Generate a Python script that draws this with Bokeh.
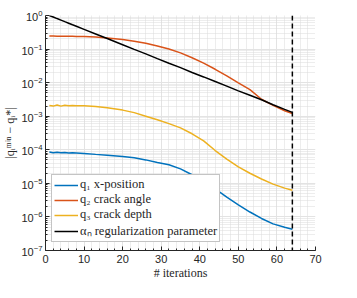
from bokeh.plotting import figure
from bokeh.models import FixedTicker, Span, Legend, LegendItem
from bokeh.embed import file_html
from bokeh.resources import INLINE

# ---- data ----
iterations = [1, 2, 3, 4, 5, 6, 7, 8, 10, 13, 16, 20, 23, 26, 29, 32, 35, 38,
              41, 44, 47, 50, 53, 56, 59, 62, 64]
q1_xpos = [8.6e-5, 8.2e-5, 8.5e-5, 8.1e-5, 8.3e-5, 8.0e-5, 8.1e-5, 8.0e-5, 7.8e-5,
           7.3e-5, 6.9e-5, 6.3e-5, 5.8e-5, 5.0e-5, 4.2e-5, 3.6e-5, 2.7e-5, 1.8e-5,
           1.2e-5, 6.8e-6, 3.9e-6, 2.3e-6, 1.4e-6, 9.0e-7, 6.2e-7, 4.9e-7, 4.3e-7]
q2_angle = [0.245, 0.244, 0.243, 0.242, 0.241, 0.240, 0.239, 0.238, 0.235,
            0.228, 0.215, 0.192, 0.172, 0.148, 0.124, 0.100, 0.077, 0.055,
            0.038, 0.025, 0.016, 0.0098, 0.0062, 0.0032, 0.0021, 0.00145, 0.0012]
q3_depth = [2.1e-3, 2.0e-3, 2.15e-3, 2.0e-3, 2.12e-3, 2.05e-3, 2.08e-3, 2.06e-3, 2.04e-3,
            1.95e-3, 1.78e-3, 1.52e-3, 1.28e-3, 1.0e-3, 7.8e-4, 6.0e-4, 4.5e-4, 3.0e-4,
            1.85e-4, 9.5e-5, 5.3e-5, 3.1e-5, 2.0e-5, 1.35e-5, 9.5e-6, 7.2e-6, 6.2e-6]
alpha_reg = [1.0, 0.9, 0.81, 0.73, 0.656, 0.59, 0.53, 0.478, 0.387,
             0.282, 0.206, 0.135, 0.098, 0.072, 0.052, 0.038, 0.028, 0.020,
             0.0148, 0.0108, 0.0079, 0.0057, 0.0042, 0.0031, 0.0022, 0.0016, 0.0013]
stop_iter = 64

labels = ["q\u2081 x-position", "q\u2082 crack angle", "q\u2083 crack depth",
          "\u03b1\u2099 regularization parameter"]
x_ticks = [0, 10, 20, 30, 40, 50, 60, 70]
y_exps = [-7, -6, -5, -4, -3, -2, -1, 0]

colors = ["#0072BD", "#D95319", "#EDB120", "#000000"]
series = [q1_xpos, q2_angle, q3_depth, alpha_reg]

p = figure(width=341, height=282, y_axis_type="log",
           x_range=(0, 70), y_range=(1e-7, 1),
           output_backend="svg", toolbar_location=None,
           min_border_left=40, min_border_right=26,
           min_border_top=15, min_border_bottom=31)
p.outline_line_color = None
p.background_fill_color = "white"
p.border_fill_color = "white"

renderers = []
for ys, c in zip(series, colors):
    r = p.line(iterations, ys, line_color=c, line_width=1.5)
    renderers.append(r)

p.add_layout(Span(location=stop_iter, dimension="height", line_color="black",
                  line_dash="5 3", line_width=1.5))

# ticks
p.xaxis.ticker = FixedTicker(ticks=x_ticks,
                             minor_ticks=[v for v in range(0, 71, 2)])
p.yaxis.ticker = FixedTicker(ticks=[10.0 ** e for e in y_exps],
                             minor_ticks=[k * 10.0 ** e for e in y_exps[:-1] for k in range(2, 10)])

for ax in (p.xaxis[0], p.yaxis[0]):
    ax.axis_line_color = "#262626"
    ax.axis_line_width = 1
    ax.major_tick_in = 4
    ax.major_tick_out = 0
    ax.minor_tick_in = 2
    ax.minor_tick_out = 0
    ax.major_tick_line_color = "#262626"
    ax.minor_tick_line_color = "#262626"
    ax.major_label_text_font = "Liberation Sans"
    ax.major_label_text_font_size = "11px"
    ax.major_label_text_color = "#262626"
    ax.axis_label_text_font = "Liberation Serif"
    ax.axis_label_text_font_style = "normal"
    ax.axis_label_text_font_size = "12px"
    ax.axis_label_text_color = "#262626"

p.xaxis.axis_label = "# iterations"
p.xaxis.major_label_standoff = 4
p.xaxis.axis_label_standoff = 0
p.yaxis.axis_label = "|q\u1d62\u1d50\u2071\u207f \u2212 q\u1d62*|"
p.yaxis.major_label_standoff = 3
p.yaxis.axis_label_standoff = 1

p.grid.grid_line_color = "#e3e3e3"
p.grid.minor_grid_line_color = "#dadada"
p.grid.minor_grid_line_dash = "1 1"

legend = Legend(items=[LegendItem(label=l, renderers=[r]) for l, r in zip(labels, renderers)],
                location=(6, 8))
legend.label_text_font = "Liberation Serif"
legend.label_text_font_size = "12.5px"
legend.label_text_color = "#262626"
legend.glyph_width = 24
legend.glyph_height = 14
legend.label_height = 14
legend.label_standoff = 2
legend.spacing = 0
legend.padding = 2
legend.margin = 0
legend.border_line_color = "#8a8a8a"
legend.border_line_width = 1
legend.background_fill_color = "white"
legend.background_fill_alpha = 1
p.add_layout(legend, "center")

open("out.html", "w").write(file_html(p, INLINE))
